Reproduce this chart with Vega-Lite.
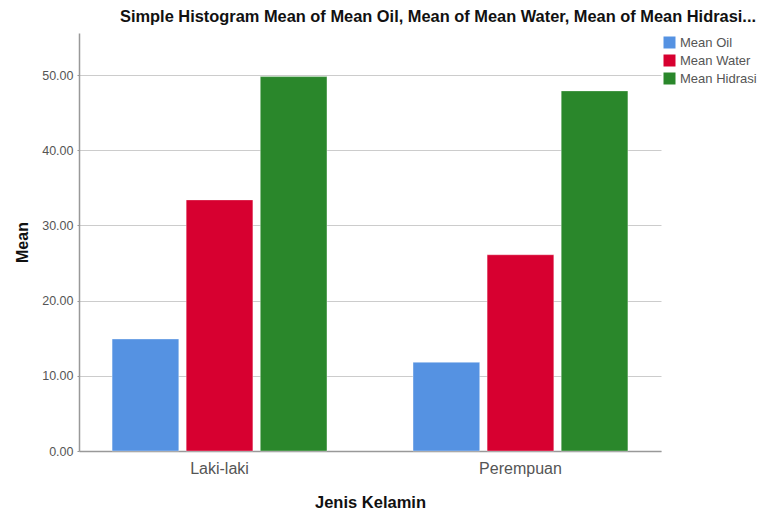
{
  "$schema": "https://vega.github.io/schema/vega-lite/v6.json",
  "autosize": {"type": "none"},
  "width": 582,
  "height": 418,
  "padding": {"left": 79, "top": 33, "right": 100, "bottom": 58},
  "background": "white",
  "title": {
    "text": "Simple Histogram Mean of Mean Oil, Mean of Mean Water, Mean of Mean Hidrasi...",
    "anchor": "start",
    "frame": "group",
    "dx": 41,
    "offset": 8,
    "font": "Liberation Sans",
    "fontSize": 16.4,
    "fontWeight": "bold",
    "color": "#111111"
  },
  "data": {
    "values": [
      {"jk": "Laki-laki", "var": "Mean Oil", "mean": 14.9},
      {"jk": "Laki-laki", "var": "Mean Water", "mean": 33.4},
      {"jk": "Laki-laki", "var": "Mean Hidrasi", "mean": 49.8},
      {"jk": "Perempuan", "var": "Mean Oil", "mean": 11.8},
      {"jk": "Perempuan", "var": "Mean Water", "mean": 26.1},
      {"jk": "Perempuan", "var": "Mean Hidrasi", "mean": 47.9}
    ]
  },
  "mark": {"type": "bar", "stroke": "#ffffff", "strokeOpacity": 0.35, "strokeWidth": 1},
  "encoding": {
    "x": {
      "field": "jk",
      "type": "nominal",
      "sort": ["Laki-laki", "Perempuan"],
      "scale": {"paddingInner": 0.286, "paddingOuter": 0.11},
      "axis": {
        "title": "Jenis Kelamin",
        "titleFont": "Liberation Sans",
        "titleFontSize": 16.5,
        "titleFontWeight": "bold",
        "titleColor": "#111111",
        "titlePadding": 18,
        "labelAngle": 0,
        "labelFont": "Liberation Sans",
        "labelFontSize": 16,
        "labelColor": "#555555",
        "labelPadding": 9,
        "ticks": false,
        "domainColor": "#999999",
        "domainWidth": 1.5
      }
    },
    "xOffset": {
      "field": "var",
      "type": "nominal",
      "sort": ["Mean Oil", "Mean Water", "Mean Hidrasi"],
      "scale": {"paddingInner": 0.1, "paddingOuter": 0}
    },
    "y": {
      "field": "mean",
      "type": "quantitative",
      "scale": {"domain": [0, 55.6], "nice": false},
      "axis": {
        "title": "Mean",
        "titleFont": "Liberation Sans",
        "titleFontSize": 16,
        "titleFontWeight": "bold",
        "titleColor": "#111111",
        "titlePadding": 11,
        "values": [0, 10, 20, 30, 40, 50],
        "format": ".2f",
        "labelFont": "Liberation Sans",
        "labelFontSize": 12.5,
        "labelColor": "#555555",
        "labelPadding": 4,
        "tickSize": 2,
        "tickColor": "#999999",
        "domainColor": "#999999",
        "domainWidth": 1.5,
        "grid": true,
        "gridColor": "#cccccc",
        "gridWidth": 1
      }
    },
    "color": {
      "field": "var",
      "type": "nominal",
      "sort": ["Mean Oil", "Mean Water", "Mean Hidrasi"],
      "scale": {
        "domain": ["Mean Oil", "Mean Water", "Mean Hidrasi"],
        "range": ["#5592E2", "#D70030", "#2A872B"]
      },
      "legend": {
        "title": null,
        "orient": "none",
        "legendX": 584,
        "legendY": 3,
        "symbolType": "square",
        "symbolSize": 144,
        "symbolStrokeWidth": 0,
        "labelFont": "Liberation Sans",
        "labelFontSize": 13,
        "labelColor": "#555555",
        "labelOffset": 4,
        "rowPadding": 4
      }
    }
  },
  "config": {"view": {"stroke": null}}
}
